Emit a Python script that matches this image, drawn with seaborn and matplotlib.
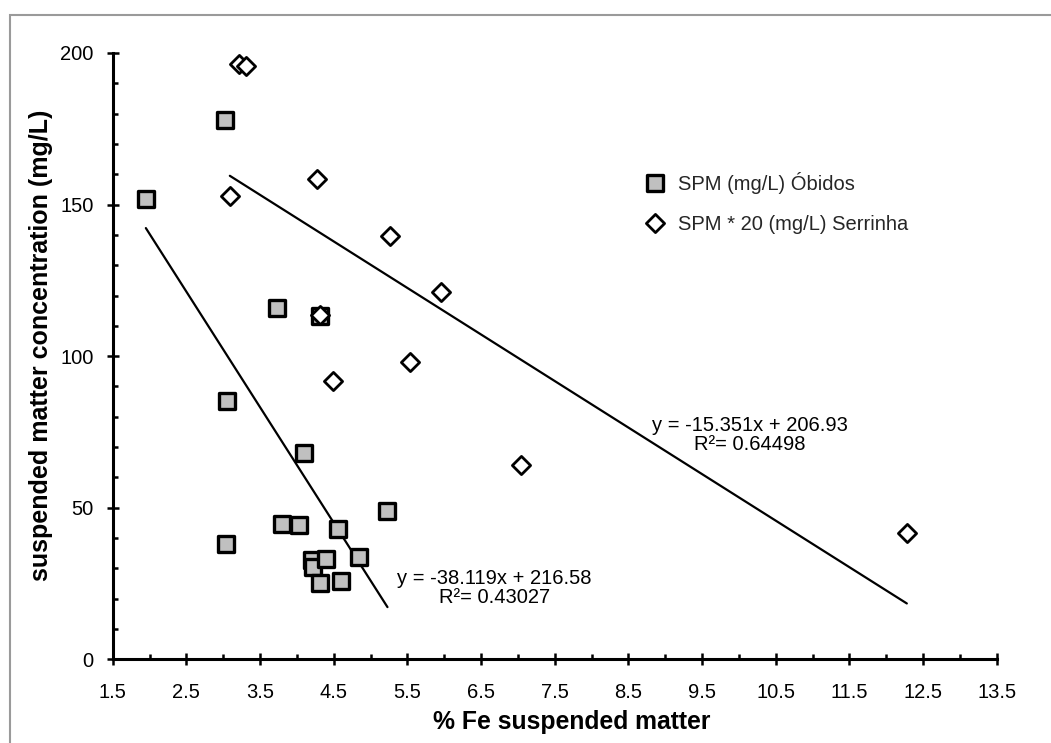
import numpy as np
import pandas as pd
import matplotlib
matplotlib.use("Agg")
import matplotlib.pyplot as plt
from matplotlib.patches import Rectangle
from matplotlib.ticker import FixedLocator, MultipleLocator
import seaborn as sns

# Óbidos: % Fe in suspended matter vs. SPM (mg/L)
obidos_fe = [1.95, 3.03, 3.73, 3.05, 4.32, 4.10, 3.04, 3.80, 4.03, 4.56, 5.23,
             4.20, 4.22, 4.39, 4.84, 4.32, 4.60]
obidos_spm = [151.8, 178.0, 115.9, 85.3, 113.3, 68.0, 38.0, 44.7, 44.3, 43.0, 48.9,
              32.8, 30.4, 33.1, 33.9, 25.3, 25.9]

# Serrinha: % Fe vs. SPM scaled by 20 (mg/L)
serrinha_fe = [3.22, 3.31, 3.09, 4.27, 5.27, 5.95, 4.32, 4.49, 5.54, 7.04, 12.28]
serrinha_spm = [196.5, 195.8, 152.7, 158.5, 139.7, 121.2, 113.5, 91.8, 98.1, 64.2, 41.6]

# Linear trendlines (slope, intercept, R²)
obidos_fit = (-38.119, 216.58, 0.43027)
serrinha_fit = (-15.351, 206.93, 0.64498)

series_labels = ["SPM (mg/L) Óbidos", "SPM * 20 (mg/L) Serrinha"]
x_title = "% Fe suspended matter"
y_title = "suspended matter concentration (mg/L)"
x_ticks = [1.5, 2.5, 3.5, 4.5, 5.5, 6.5, 7.5, 8.5, 9.5, 10.5, 11.5, 12.5, 13.5]
y_ticks = [0, 50, 100, 150, 200]

obidos = pd.DataFrame({"fe": obidos_fe, "spm": obidos_spm})
serrinha = pd.DataFrame({"fe": serrinha_fe, "spm": serrinha_spm})

sns.set_theme(style="ticks")
plt.rcParams["font.family"] = ["Liberation Sans", "DejaVu Sans"]

W, H = 1051, 743
fig = plt.figure(figsize=(W / 100, H / 100), dpi=100)
fig.patch.set_facecolor("white")

# chart-area frame (runs off the right and bottom edges)
fig.patches.append(Rectangle((9.5 / W, -0.2), 2.0, 1 - 15 / H + 0.2,
                             transform=fig.transFigure, fill=False,
                             edgecolor="#9a9a9a", linewidth=1.5))

x0, x1 = 112.7, 996.7
y0, y1 = 659.3, 53.0
ax = fig.add_axes([x0 / W, 1 - y0 / H, (x1 - x0) / W, (y0 - y1) / H])
ax.set_facecolor("none")

# trendlines over each series' range
for df, (m, b, _) in ((obidos, obidos_fit), (serrinha, serrinha_fit)):
    xs = np.array([df["fe"].min(), df["fe"].max()])
    ax.plot(xs, m * xs + b, color="black", linewidth=1.6, zorder=2)

sns.scatterplot(data=obidos, x="fe", y="spm", ax=ax, marker="s", s=125,
                color="#c0c0c0", edgecolor="black", linewidth=2.4,
                label=series_labels[0], zorder=3)
sns.scatterplot(data=serrinha, x="fe", y="spm", ax=ax, marker="D", s=86,
                color="white", edgecolor="black", linewidth=2.0,
                label=series_labels[1], zorder=4)

ax.set_xlim(x_ticks[0], x_ticks[-1])
ax.set_ylim(y_ticks[0], y_ticks[-1])
ax.xaxis.set_major_locator(FixedLocator(x_ticks))
ax.set_xticklabels([f"{t:g}" for t in x_ticks])
ax.yaxis.set_major_locator(FixedLocator(y_ticks))
ax.set_yticklabels([f"{t:g}" for t in y_ticks])
ax.xaxis.set_minor_locator(MultipleLocator(1.0))
ax.yaxis.set_minor_locator(MultipleLocator(10))

for side in ("top", "right"):
    ax.spines[side].set_visible(False)
for side in ("left", "bottom"):
    ax.spines[side].set_color("black")
    ax.spines[side].set_linewidth(2.2)

ax.tick_params(which="major", direction="inout", length=8.8, width=1.8,
               color="black", labelsize=14.5, labelcolor="black",
               bottom=True, left=True)
ax.tick_params(which="minor", direction="in", length=3.5, width=1.8,
               color="black", bottom=True, left=True)
ax.tick_params(axis="x", which="major", pad=12.5)
ax.tick_params(axis="y", which="major", pad=9.5)

ax.set_xlabel(x_title, fontsize=17.8, fontweight="bold", color="black")
ax.xaxis.set_label_coords(571.5 / W, 1 - 729 / H, transform=fig.transFigure)
ax.xaxis.label.set_va("baseline")
ax.set_ylabel(y_title, fontsize=18, fontweight="bold", color="black")
ax.yaxis.set_label_coords(41 / W, 1 - 345 / H, transform=fig.transFigure)
ax.yaxis.label.set_va("center")

# trendline equations
def eq_text(fit):
    m, b, r2 = fit
    return f"y = {m:.3f}x + {b:.2f}\nR²= {r2:.5f}"

ax.text(6.68, 23.5, eq_text(obidos_fit), ha="center", va="center",
        multialignment="center", fontsize=14.5, linespacing=1.05, color="black")
ax.text(10.15, 74.0, eq_text(serrinha_fit), ha="center", va="center",
        multialignment="center", fontsize=14.5, linespacing=1.05, color="black")

ax.legend(frameon=False, loc="center left",
          bbox_to_anchor=(645 / W, 1 - 203 / H), bbox_transform=fig.transFigure,
          borderpad=0, borderaxespad=0, handlelength=1.0, handletextpad=0.64,
          labelspacing=1.05, fontsize=14.5, scatteryoffsets=[0.5])

fig.savefig("out.png", dpi=100, facecolor="white")
